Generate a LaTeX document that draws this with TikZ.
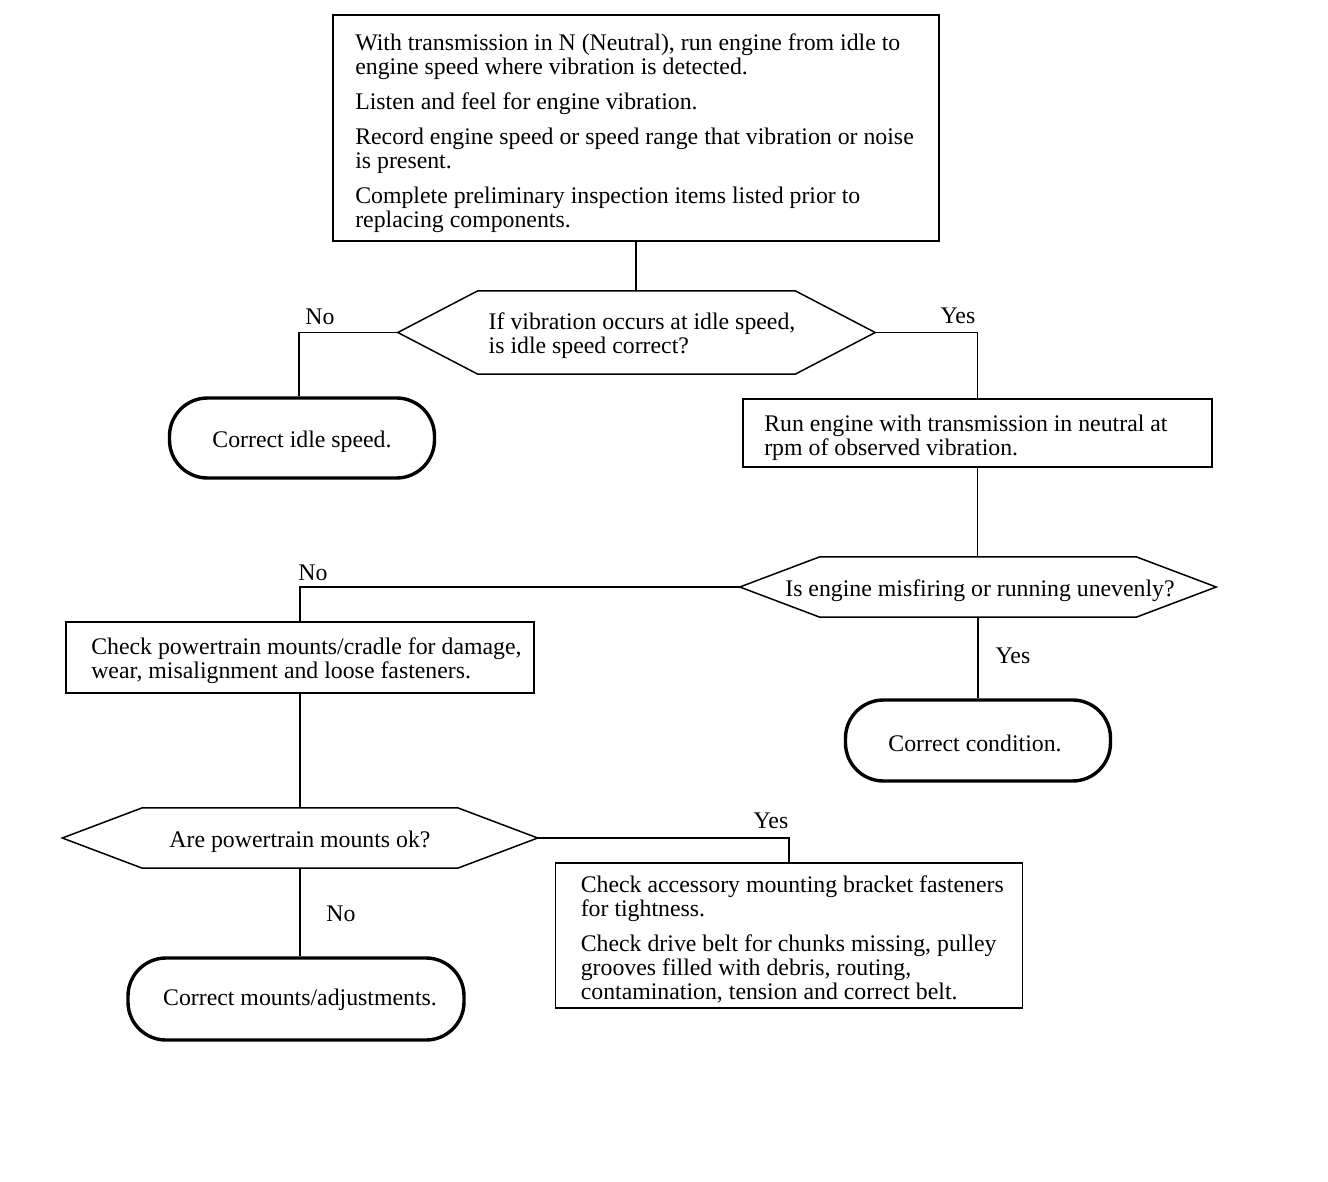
\documentclass[tikz,border=0pt]{standalone}
\usepackage{fontspec}
\setmainfont{Liberation Serif}
\newcommand\fs{\fontsize{23.8}{24}\selectfont}
\newcommand\hexdraw[2]{\draw[hexline] (#1.west) -- ([xshift=#2]#1.north west) -- ([xshift=-#2]#1.north east) -- (#1.east) -- ([xshift=-#2]#1.south east) -- ([xshift=#2]#1.south west) -- cycle;}
\begin{document}
\begin{tikzpicture}[x=1pt,y=-1pt,
  box/.style={draw, line width=1.8pt, inner sep=0pt},
  txt/.style={font=\fs, align=left, inner sep=0pt, anchor=west},
  hexnode/.style={draw=none, inner sep=0pt},
  hexline/.style={line width=1.5pt, line join=miter},
  term/.style={draw, line width=3.4pt, rounded corners=38pt, inner sep=0pt},
  conn/.style={line width=1.6pt},
  lab/.style={font=\fs, inner sep=0pt}]
\useasboundingbox (0,0) rectangle (1328,1182);

% top box
\node[box, minimum width=606pt, minimum height=226pt] (b1) at (636,128) {};
\node[txt] (b1t) at ([xshift=23pt,yshift=-5pt]b1.west) {With transmission in N (Neutral), run engine from idle to\\
engine speed where vibration is detected.\\[11pt]
Listen and feel for engine vibration.\\[11pt]
Record engine speed or speed range that vibration or noise\\
is present.\\[11pt]
Complete preliminary inspection items listed prior to\\
replacing components.};

% hexagon 1
\node[hexnode, minimum width=477pt, minimum height=83pt] (h1) at (636.5,332.5) {};
\hexdraw{h1}{80pt}
\node[txt] (h1t) at ([xshift=-148pt,yshift=-3pt]h1.center) {If vibration occurs at idle speed,\\is idle speed correct?};

% terminal 1
\node[term, minimum width=265pt, minimum height=80pt] (t1) at (302,438) {};
\node[txt, anchor=center] (t1t) at ([yshift=-4pt]t1.center) {Correct idle speed.};

% box 2
\node[box, minimum width=469pt, minimum height=68pt] (b2) at (977.5,433) {};
\node[txt] (b2t) at ([xshift=22pt,yshift=-5pt]b2.west) {Run engine with transmission in neutral at\\rpm of observed vibration.};

% hexagon 2
\node[hexnode, minimum width=476pt, minimum height=60pt] (h2) at (978,587) {};
\hexdraw{h2}{80pt}
\node[txt, anchor=center] (h2t) at ([xshift=2pt,yshift=-4pt]h2.center) {Is engine misfiring or running unevenly?};

% terminal 2
\node[term, minimum width=265pt, minimum height=81pt] (t2) at (978,740.5) {};
\node[txt, anchor=center] (t2t) at ([xshift=-3pt,yshift=-3pt]t2.center) {Correct condition.};

% box 3
\node[box, minimum width=468pt, minimum height=71pt] (b3) at (300,657.5) {};
\node[txt] (b3t) at ([xshift=26pt,yshift=-3pt]b3.west) {Check powertrain mounts/cradle for damage,\\wear, misalignment and loose fasteners.};

% hexagon 3
\node[hexnode, minimum width=475pt, minimum height=60pt] (h3) at (300,838) {};
\hexdraw{h3}{80pt}
\node[txt, anchor=center] (h3t) at ([yshift=-4pt]h3.center) {Are powertrain mounts ok?};

% box 4
\node[box, minimum width=467pt, minimum height=145pt] (b4) at (789,935.5) {};
\node[txt] (b4t) at ([xshift=26pt,yshift=-4pt]b4.west) {Check accessory mounting bracket fasteners\\
for tightness.\\[11pt]
Check drive belt for chunks missing, pulley\\
grooves filled with debris, routing,\\
contamination, tension and correct belt.};

% terminal 3
\node[term, minimum width=336pt, minimum height=82pt] (t3) at (296,999) {};
\node[txt, anchor=center] (t3t) at ([xshift=4pt,yshift=-1pt]t3.center) {Correct mounts/adjustments.};

% connectors
\draw[conn] (b1.south) -- (b1.south |- h1.north);
\draw[conn] (h1.west) -| ([xshift=-3pt]t1.north);
\draw[conn] (h1.east) -| (b2.north);
\draw[conn] (b2.south) -- (b2.south |- h2.north);
\draw[conn] (h2.south) -- (h2.south |- t2.north);
\draw[conn] (h2.west) -| (b3.north);
\draw[conn] (b3.south) -- (b3.south |- h3.north);
\draw[conn] (h3.east) -| (b4.north);
\draw[conn] (h3.south) -- (h3.south |- t3.north);

% labels
\node[lab] (l1) at (320,317) {No};
\node[lab] (l2) at (958,316) {Yes};
\node[lab] (l3) at (313,573) {No};
\node[lab] (l4) at (1013,656) {Yes};
\node[lab] (l5) at (771,821) {Yes};
\node[lab] (l6) at (341,914) {No};
\end{tikzpicture}
\end{document}
